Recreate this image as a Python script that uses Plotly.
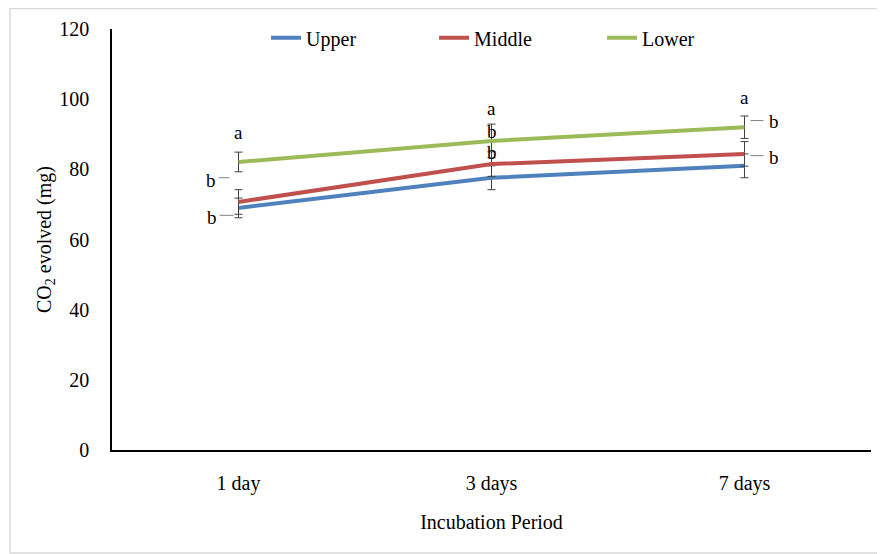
import plotly.graph_objects as go

categories = ["1 day", "3 days", "7 days"]
upper = [69.0, 77.6, 81.0]
middle = [70.7, 81.5, 84.4]
lower = [82.1, 88.1, 92.0]
upper_err = [2.8, 3.4, 3.4]
middle_err = [3.5, 3.5, 3.5]
lower_err = [2.8, 4.8, 3.2]

# significance letters: (category, y value, text, x shift px)
letters = [
    ("1 day", 90.6, "a", 0), ("1 day", 76.9, "b", -28), ("1 day", 66.4, "b", -27),
    ("3 days", 97.3, "a", 0), ("3 days", 90.8, "b", 0), ("3 days", 84.9, "b", 0),
    ("7 days", 100.6, "a", 0), ("7 days", 93.7, "b", 29), ("7 days", 83.5, "b", 29),
]
# leader lines: (category index, y value, pixel x0, pixel x1)
leaders = [(0, 77.6, -20, -9), (0, 66.9, -19, -5), (2, 93.9, 6, 19), (2, 83.9, 6, 19)]

FONT = "Liberation Serif, Times New Roman, serif"
colors = {"Upper": "#4F81BD", "Middle": "#C0504D", "Lower": "#9BBB59"}

fig = go.Figure()
for name, vals, err in [("Upper", upper, upper_err), ("Middle", middle, middle_err), ("Lower", lower, lower_err)]:
    fig.add_trace(go.Scatter(
        x=categories, y=vals, name=name, mode="lines",
        line=dict(color=colors[name], width=4),
        error_y=dict(type="data", array=err, visible=True, color="#404040", thickness=1, width=4),
    ))

for cat, yv, txt, dx in letters:
    fig.add_annotation(x=cat, y=yv, text=txt, showarrow=False, xshift=dx,
                       font=dict(family=FONT, size=19, color="#000000"))

shapes = [dict(type="rect", xref="paper", yref="paper", x0=-0.1344, x1=1.03, y0=-0.2447, y1=1.0487,
               line=dict(color="#D9D9D9", width=1.5), fillcolor="rgba(0,0,0,0)", layer="below")]
for xi, yv, px0, px1 in leaders:
    shapes.append(dict(type="line", xref="x", yref="y", xsizemode="pixel", xanchor=xi,
                       x0=px0, x1=px1, y0=yv, y1=yv, line=dict(color="#808080", width=1)))

fig.update_layout(
    width=877, height=546,
    margin=dict(l=104, r=14, t=21, b=104, autoexpand=False),
    paper_bgcolor="white", plot_bgcolor="white",
    font=dict(family=FONT, size=20, color="#000000"),
    showlegend=True,
    legend=dict(orientation="h", x=0.535, xanchor="center", y=0.979, yanchor="middle",
                font=dict(family=FONT, size=20), bgcolor="rgba(0,0,0,0)", entrywidth=123),
    xaxis=dict(range=[-0.5, 2.5], showline=True, linecolor="#000000", linewidth=1.5, showgrid=False,
               ticks="", ticklabelstandoff=14, zeroline=False, automargin=False,
               title=dict(text="Incubation Period", font=dict(family=FONT, size=20), standoff=21)),
    yaxis=dict(range=[0, 120], dtick=20, showline=True, linecolor="#000000", linewidth=1.5,
               showgrid=False, ticks="", ticklabelstandoff=17, zeroline=False, automargin=False,
               title=dict(text="CO<sub>2</sub> evolved (mg)", font=dict(family=FONT, size=20), standoff=2)),
    shapes=shapes,
)

fig.write_html("out.html")
